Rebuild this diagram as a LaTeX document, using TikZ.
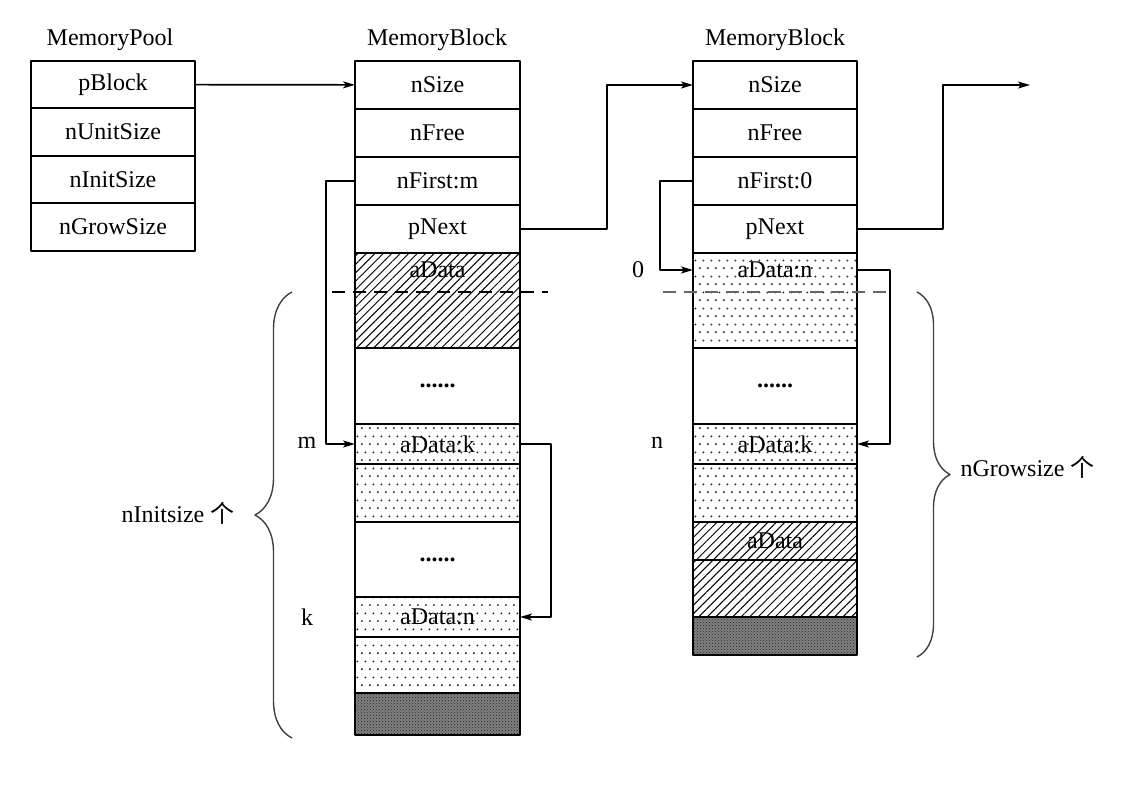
\documentclass[tikz,border=0pt]{standalone}
\usepackage{fontspec}
\setmainfont{Liberation Serif}
\newfontfamily\cjk{Noto Sans CJK SC}
\usetikzlibrary{positioning,patterns,patterns.meta,arrows.meta,decorations.pathreplacing}

% staggered dots, as in the free units
\pgfdeclarepatternformonly{memdots}{\pgfpointorigin}{\pgfpoint{7.5pt}{16pt}}{\pgfpoint{7.5pt}{16pt}}{%
  \pgfpathcircle{\pgfpoint{2pt}{2pt}}{1.1pt}%
  \pgfpathcircle{\pgfpoint{5.75pt}{10pt}}{1.1pt}%
  \pgfusepath{fill}}

\begin{document}
\begin{tikzpicture}[x=1pt,y=-1pt,>={Stealth[length=12pt,width=7pt,inset=3pt]},
    line join=round,
    font=\fontsize{24}{27}\selectfont,
    cell/.style={draw,line width=1.8pt,minimum width=165pt,minimum height=48pt,inner sep=0pt,outer sep=0pt},
    poolcell/.style={cell,minimum width=164pt,minimum height=47.5pt},
    hatch/.style={pattern={Lines[angle=45,distance=6pt,line width=1pt]}},
    dotted cell/.style={pattern=memdots,pattern color=black!85},
    dark/.style={preaction={fill=black!50},pattern=crosshatch dots,pattern color=black!85},
    link/.style={->,line width=1.7pt},
    cut/.style={line width=1.6pt,dash pattern=on 13pt off 8pt},
    curly/.style={decorate,decoration={brace,amplitude=#1},line width=1.4pt,black!75}]
\useasboundingbox (0,0) rectangle (1126,798);

% MemoryPool
\node (pooltitle) at (110,40) {MemoryPool};
\node[poolcell] (pblock) at (113,84.5) {pBlock};
\node[poolcell,below=0pt of pblock] (punit) {nUnitSize};
\node[poolcell,below=0pt of punit] (pinit) {nInitSize};
\node[poolcell,below=0pt of pinit] (pgrow) {nGrowSize};

% first MemoryBlock
\node (b1title) at (437,40) {MemoryBlock};
\node[cell] (b1size) at (437.5,85) {nSize};
\node[cell,below=0pt of b1size] (b1free) {nFree};
\node[cell,below=0pt of b1free] (b1first) {nFirst:m};
\node[cell,below=0pt of b1first] (b1next) {pNext};
\node[cell,hatch,minimum height=95pt,below=0pt of b1next] (b1d0) {};
\path (b1d0.north) ++(0,17) node (b1d0lab) {aData};
\node[cell,minimum height=76pt,below=0pt of b1d0] (b1gap1) {\textbf{......}};
\node[cell,dotted cell,minimum height=40pt,below=0pt of b1gap1] (b1dk) {aData:k};
\node[cell,dotted cell,minimum height=58pt,below=0pt of b1dk] (b1d2) {};
\node[cell,minimum height=75pt,below=0pt of b1d2] (b1gap2) {\textbf{......}};
\node[cell,dotted cell,minimum height=40pt,below=0pt of b1gap2] (b1dn) {aData:n};
\node[cell,dotted cell,minimum height=56pt,below=0pt of b1dn] (b1d4) {};
\node[cell,dark,minimum height=42pt,below=0pt of b1d4] (b1end) {};

% second MemoryBlock
\node (b2title) at (775,40) {MemoryBlock};
\node[cell,minimum width=164pt] (b2size) at (775,85) {nSize};
\node[cell,minimum width=164pt,below=0pt of b2size] (b2free) {nFree};
\node[cell,minimum width=164pt,below=0pt of b2free] (b2first) {nFirst:0};
\node[cell,minimum width=164pt,below=0pt of b2first] (b2next) {pNext};
\node[cell,minimum width=164pt,dotted cell,minimum height=95pt,below=0pt of b2next] (b2d0) {};
\path (b2d0.north) ++(0,17) node (b2d0lab) {aData:n};
\node[cell,minimum width=164pt,minimum height=76pt,below=0pt of b2d0] (b2gap) {\textbf{......}};
\node[cell,minimum width=164pt,dotted cell,minimum height=40pt,below=0pt of b2gap] (b2dk) {aData:k};
\node[cell,minimum width=164pt,dotted cell,minimum height=58pt,below=0pt of b2dk] (b2d2) {};
\node[cell,minimum width=164pt,hatch,minimum height=38pt,below=0pt of b2d2] (b2d3) {aData};
\node[cell,minimum width=164pt,hatch,minimum height=57pt,below=0pt of b2d3] (b2d4) {};
\node[cell,minimum width=164pt,dark,minimum height=38pt,below=0pt of b2d4] (b2end) {};
\coordinate (b3) at (1030,85);

% index labels
\node (labm) at (307,443) {m};
\node (labk) at (307,617) {k};
\node (lab0) at (638,270) {0};
\node (labn) at (657,443) {n};

% links
\draw[link] (pblock) -- (b1size);
\draw[link] (b1next.east) -- ++(87,0) |- (b2size.west);
\draw[link] (b2next.east) -- ++(86,0) |- (b3);
\draw[link] (b1first.west) -- ++(-29,0) |- (b1dk.west);
\draw[link] (b1dk.east) -- ++(31,0) |- (b1dn.east);
\draw[link] (b2first.west) -- ++(-33,0) |- (b2d0.west |- b2d0lab);
\draw[link] (b2d0.east |- b2d0lab) -- ++(33,0) |- (b2dk.east);

% boundary of the header
\draw[cut] (332,292) -- (548,292);
\draw[cut,black!60] (663,292) -- (890,292);

% braces
\draw[curly=37pt] (292,738) -- (292,292);
\node (initlab) at (178,513) {nInitsize {\cjk 个}};
\draw[curly=33pt] (917,292) -- (917,657);
\node[anchor=west] (growlab) at (957,467) {nGrowsize {\cjk 个}};
\end{tikzpicture}
\end{document}
